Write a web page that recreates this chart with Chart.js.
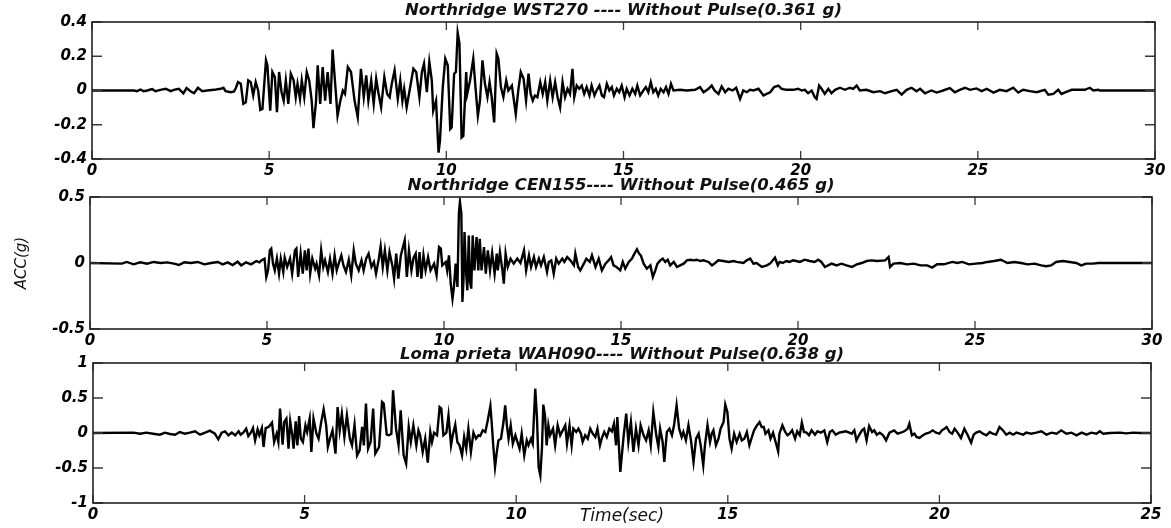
<!DOCTYPE html>
<html>
<head>
<meta charset="utf-8">
<script src="https://cdn.jsdelivr.net/npm/chart.js@4.4.1/dist/chart.umd.min.js"></script>
<style>
  body { margin: 0; background: #fff; }
  #wrap { position: relative; width: 1171px; height: 528px; overflow: hidden; }
  canvas { position: absolute; left: 0; }
</style>
</head>
<body>
<div id="wrap">
  <canvas id="wst270" width="1171" height="180" style="top:0px"></canvas>
  <canvas id="cen155" width="1171" height="180" style="top:174px"></canvas>
  <canvas id="wah090" width="1171" height="186" style="top:342px"></canvas>
</div>
<script>
// [time (sec), acceleration (g)]
const wst270 = [
  [0,0],[1.18,0],[1.27,-0.004],[1.37,0.006],[1.46,-0.004],[1.56,0],[1.70,0.008],[1.79,-0.004],[1.93,0.004],[2.08,0.01],
  [2.22,-0.004],[2.31,0.004],[2.45,0.01],[2.58,-0.016],[2.67,0.014],[2.78,-0.004],[2.88,-0.016],[2.99,0.016],[3.11,-0.004],[3.25,0],
  [3.44,0.004],[3.63,0.01],[3.71,0.016],[3.77,-0.004],[3.92,-0.01],[4.01,-0.006],
  [4.06,0.015],[4.12,0.049],[4.20,0.039],[4.27,-0.078],[4.34,-0.069],[4.41,0.059],[4.48,0.049],[4.55,-0.029],[4.62,0.049],[4.69,0],
  [4.75,-0.114],[4.81,-0.108],[4.91,0.176],[4.95,0.147],[5.03,-0.118],[5.09,0.108],[5.16,0.078],[5.22,-0.127],[5.28,0.108],[5.35,-0.01],
  [5.41,-0.059],[5.47,0.059],[5.54,-0.078],[5.61,0.098],[5.69,0.059],[5.75,-0.039],[5.80,0.039],[5.87,-0.049],[5.92,0.059],[5.99,-0.039],
  [6.06,0.108],[6.13,0.059],[6.20,-0.059],[6.25,-0.22],[6.32,-0.069],[6.37,0.147],[6.44,-0.078],[6.51,0.137],[6.58,-0.059],[6.65,0.108],
  [6.73,-0.078],[6.79,0.239],[6.87,0.02],[6.93,-0.147],[7.01,-0.059],[7.08,0],[7.14,-0.02],[7.22,0.137],[7.31,0.108],[7.41,-0.059],
  [7.50,-0.157],[7.59,0.127],[7.67,-0.039],[7.74,0.088],[7.80,-0.059],[7.88,0.059],[7.95,-0.078],[8.02,0.069],[8.08,-0.01],[8.16,-0.098],
  [8.25,0.078],[8.33,-0.02],[8.40,-0.039],[8.46,0.039],[8.54,0.118],[8.63,-0.049],[8.70,0.06],[8.76,-0.06],[8.81,0.01],[8.88,-0.098],
  [8.98,0.02],[9.07,0.127],[9.15,0.108],[9.24,-0.039],[9.31,0.108],[9.37,0.157],[9.45,-0.01],[9.52,0.167],[9.59,0.059],[9.63,-0.118],
  [9.71,-0.059],[9.78,-0.363],[9.82,-0.294],[9.90,0.02],[9.97,0.186],[10.04,0.147],[10.11,-0.225],[10.15,-0.216],[10.22,0.098],[10.27,0.108],
  [10.32,0.337],[10.37,0.275],[10.43,-0.275],[10.48,-0.265],[10.56,0.108],[10.59,-0.02],[10.67,0.059],[10.76,0.186],[10.83,0],[10.89,-0.147],
  [10.95,-0.059],[11.02,0.176],[11.09,0.039],[11.16,-0.039],[11.22,0.049],[11.28,-0.039],[11.35,-0.186],[11.42,0.216],[11.47,0.186],[11.54,0.02],
  [11.61,-0.039],[11.69,0.059],[11.75,0],[11.85,0.029],[11.96,-0.137],[12.03,0],[12.10,0.108],[12.18,0.069],[12.25,-0.059],[12.32,0.098],
  [12.38,-0.02],[12.44,-0.059],[12.50,-0.029],[12.57,-0.039],[12.65,0.049],[12.72,-0.02],[12.79,0.049],[12.85,-0.059],[12.93,0.059],[13.00,-0.039],
  [13.07,0.049],[13.14,-0.039],[13.21,-0.098],[13.28,0.049],[13.35,-0.039],[13.42,0.01],[13.49,-0.02],[13.56,0.127],[13.61,-0.039],[13.68,0.029],
  [13.75,0.01],[13.82,0.029],[13.89,-0.02],[13.96,0.02],[14.04,-0.029],[14.10,0.029],[14.18,-0.029],[14.24,0],[14.32,0.029],[14.39,-0.029],
  [14.45,-0.039],[14.53,0.039],[14.60,0],[14.67,0.02],[14.73,-0.029],[14.81,0.01],[14.88,-0.01],[14.95,0.029],[15.03,-0.039],[15.09,0.01],
  [15.17,-0.029],[15.25,0.01],[15.33,-0.02],[15.39,0.029],[15.47,-0.029],[15.56,0],[15.63,0.02],[15.70,-0.01],[15.77,0.049],[15.84,-0.01],
  [15.91,0.01],[15.98,-0.029],[16.05,0.01],[16.13,-0.01],[16.20,0.02],[16.27,-0.02],[16.34,0.039],[16.41,0],[16.60,0.004],[16.78,0],
  [17.02,0.004],[17.16,0.02],[17.26,-0.01],[17.40,0.01],[17.49,0.029],[17.57,0],[17.68,-0.02],[17.77,0.024],[17.87,-0.01],[17.96,0.01],
  [18.08,0],[18.18,0.016],[18.29,-0.049],[18.38,0],[18.48,-0.01],[18.57,0.004],[18.67,0],[18.81,0.01],[18.95,-0.029],[19.04,-0.02],
  [19.14,-0.01],[19.25,0.02],[19.37,0.029],[19.46,0.01],[19.60,0.004],[19.79,0.004],[19.93,0.01],[20.03,0],[20.12,0.004],[20.21,-0.016],
  [20.31,0],[20.40,-0.039],[20.45,-0.049],[20.52,0.029],[20.59,0.01],[20.68,-0.02],[20.78,0.01],[20.87,-0.016],[20.97,0.004],[21.11,0.016],
  [21.25,0.004],[21.39,0.016],[21.48,0.01],[21.58,0.029],[21.67,0],[21.86,0.004],[22.05,-0.01],[22.24,-0.004],[22.38,-0.016],[22.57,-0.004],
  [22.71,0.004],[22.85,-0.024],[22.99,0.004],[23.13,0.016],[23.27,-0.004],[23.37,0.01],[23.51,-0.016],[23.69,0],[23.84,-0.012],[24.02,0],
  [24.21,0.014],[24.35,-0.01],[24.49,0.004],[24.64,0.016],[24.78,0.004],[24.96,0.012],[25.11,-0.004],[25.25,0.01],[25.44,-0.012],[25.62,0.004],
  [25.81,-0.004],[26.00,0.016],[26.14,-0.012],[26.28,0.004],[26.47,-0.004],[26.66,-0.01],[26.89,0.004],[26.99,-0.024],[27.13,-0.02],[27.27,0.004],
  [27.36,-0.02],[27.50,-0.008],[27.65,0.004],[27.79,0.004],[28.02,0.004],[28.16,0.016],[28.26,0],[28.40,0.004],[28.45,0],[30,0]
];

const cen155 = [
  [0,0],[0.90,-0.005],[1.04,0.008],[1.23,-0.01],[1.42,0.005],[1.61,-0.005],[1.80,0.008],[1.99,0],[2.18,0.005],[2.37,-0.005],
  [2.51,-0.015],[2.66,0.005],[2.85,0],[3.04,0.008],[3.23,-0.01],[3.42,0],[3.61,0.008],[3.75,-0.01],[3.89,0.005],[4.03,-0.015],
  [4.17,0.01],[4.27,-0.018],[4.41,0.005],[4.55,-0.01],[4.70,0.015],[4.79,0.005],[4.84,0.02],[4.93,0.033],[4.98,-0.106],[5.03,-0.056],
  [5.08,0.096],[5.12,0.109],[5.17,-0.005],[5.22,-0.056],[5.28,0.033],[5.34,-0.081],[5.39,0.033],[5.46,-0.068],[5.50,0.04],[5.57,-0.03],
  [5.65,0.033],[5.71,-0.081],[5.79,0.096],[5.83,0.109],[5.88,-0.106],[5.95,0.071],[6.01,-0.081],[6.07,0.096],[6.12,-0.056],[6.17,0.109],
  [6.22,-0.081],[6.28,0.033],[6.36,-0.043],[6.40,-0.005],[6.47,-0.093],[6.53,0.096],[6.59,-0.03],[6.64,0.02],[6.72,-0.068],[6.78,0.033],
  [6.85,-0.081],[6.91,0.058],[6.97,-0.056],[7.04,0.008],[7.10,0.058],[7.16,-0.018],[7.23,-0.068],[7.31,0.025],[7.38,-0.093],[7.45,0.096],
  [7.51,-0.005],[7.59,-0.056],[7.67,0.02],[7.73,-0.056],[7.80,0.033],[7.87,0.071],[7.95,-0.03],[8.02,0.008],[8.08,-0.081],[8.16,0.033],
  [8.21,0.126],[8.27,-0.03],[8.33,0.096],[8.40,-0.056],[8.46,0.083],[8.54,-0.018],[8.59,-0.119],[8.65,0.071],[8.71,-0.119],[8.78,0.058],
  [8.89,0.172],[8.95,-0.106],[9.01,0.096],[9.08,-0.056],[9.14,0.04],[9.20,0.071],[9.25,-0.106],[9.31,0.083],[9.36,-0.119],[9.42,0.058],
  [9.48,-0.056],[9.55,0.045],[9.62,-0.056],[9.72,-0.005],[9.79,-0.093],[9.86,0.121],[9.91,0.109],[9.95,-0.018],[10.05,0.008],[10.09,-0.056],
  [10.14,0.058],[10.19,-0.157],[10.24,-0.27],[10.28,-0.182],[10.33,-0.005],[10.38,-0.182],[10.42,0.374],[10.45,0.463],[10.49,0.374],[10.52,-0.295],
  [10.55,-0.131],[10.58,0.235],[10.62,-0.056],[10.66,-0.207],[10.70,0.209],[10.73,-0.131],[10.77,-0.194],[10.81,0.209],[10.86,-0.056],[10.92,0.197],
  [10.97,-0.056],[11.01,0.184],[11.06,-0.056],[11.13,0.121],[11.18,-0.081],[11.24,0.096],[11.30,-0.056],[11.36,0.076],[11.43,-0.081],[11.49,0.071],
  [11.52,-0.056],[11.58,0.083],[11.65,-0.056],[11.69,-0.157],[11.74,0.071],[11.80,-0.03],[11.88,0.033],[11.97,-0.005],[12.07,0.033],[12.16,0],
  [12.26,0.096],[12.32,-0.056],[12.40,0.058],[12.46,-0.03],[12.54,0.045],[12.60,-0.03],[12.68,0.033],[12.74,-0.018],[12.82,0.045],[12.91,-0.068],
  [12.96,0.008],[13.03,0.02],[13.10,-0.081],[13.17,0.033],[13.24,-0.005],[13.34,0.033],[13.40,0.008],[13.48,0.045],[13.57,0.02],[13.67,-0.018],
  [13.71,0.071],[13.79,-0.03],[13.85,-0.056],[13.95,-0.005],[14.02,0.033],[14.12,0.008],[14.18,0.058],[14.28,-0.03],[14.37,0.033],[14.46,-0.056],
  [14.56,-0.005],[14.65,0.02],[14.72,0.045],[14.79,-0.018],[14.87,-0.03],[14.98,-0.056],[15.05,0.008],[15.12,-0.043],[15.22,0.008],[15.31,0.033],
  [15.38,0.071],[15.45,0.104],[15.51,0.071],[15.56,0.058],[15.64,-0.005],[15.73,-0.043],[15.83,-0.018],[15.90,-0.106],[15.97,-0.056],[16.03,-0.005],
  [16.11,0.02],[16.18,0.033],[16.25,0.008],[16.32,0.025],[16.39,-0.018],[16.49,0.008],[16.58,-0.03],[16.67,-0.018],[16.77,-0.005],[16.86,0.02],
  [16.96,0.025],[17.05,0.02],[17.14,0.025],[17.24,0.015],[17.33,0.02],[17.47,0.008],[17.57,-0.018],[17.66,0],[17.75,0.02],[17.89,0.015],
  [18.04,0.008],[18.18,0.015],[18.27,0.008],[18.46,0],[18.55,0.02],[18.65,0.033],[18.74,-0.005],[18.83,0],[18.98,-0.03],[19.12,-0.018],
  [19.21,-0.005],[19.35,0.04],[19.43,-0.018],[19.48,0.008],[19.57,0],[19.67,0.015],[19.76,0.008],[19.86,0.02],[19.95,0.015],[20.05,0.008],
  [20.19,0.025],[20.33,0.015],[20.47,0.008],[20.57,0.025],[20.66,0.008],[20.76,-0.03],[20.85,-0.018],[20.95,-0.005],[21.09,-0.018],[21.23,-0.005],
  [21.37,-0.018],[21.52,-0.03],[21.66,-0.01],[21.80,0],[21.94,0.015],[22.08,0.02],[22.23,0.015],[22.46,0.02],[22.56,0.045],[22.60,-0.03],
  [22.70,-0.005],[22.89,0],[23.08,-0.01],[23.27,-0.005],[23.46,-0.018],[23.65,-0.018],[23.79,-0.035],[23.93,-0.01],[24.12,-0.01],[24.36,0.008],
  [24.50,0],[24.64,0.008],[24.83,-0.01],[25.02,-0.005],[25.21,0],[25.35,0.008],[25.54,0.015],[25.73,0.025],[25.92,0],[26.11,0.008],
  [26.30,0],[26.49,-0.01],[26.68,-0.005],[26.87,-0.018],[27.01,-0.025],[27.15,-0.018],[27.29,0.008],[27.48,0.015],[27.67,0.008],[27.86,0],
  [28.00,-0.018],[28.14,-0.005],[28.33,-0.005],[28.48,0],[28.62,0],[30,0]
];

const wah090 = [
  [0,0],[0.95,0.005],[1.11,-0.01],[1.26,0.005],[1.42,-0.01],[1.58,-0.024],[1.70,0.005],[1.82,-0.014],[1.94,-0.024],[2.05,0.014],
  [2.17,-0.01],[2.29,0.005],[2.41,0.024],[2.53,-0.024],[2.65,0.005],[2.76,0.033],[2.88,-0.01],[2.96,-0.09],[3.04,0.005],[3.12,0.024],
  [3.20,-0.033],[3.28,0.005],[3.36,-0.033],[3.44,0.024],[3.49,-0.024],[3.55,0.005],[3.62,0.062],[3.67,-0.043],[3.73,0.005],[3.78,0.071],
  [3.83,-0.105],[3.89,0.052],[3.93,-0.033],[3.99,0.071],[4.03,-0.2],[4.08,0.071],[4.15,0.086],[4.23,0.148],[4.28,-0.129],[4.34,-0.01],
  [4.38,-0.129],[4.42,0.348],[4.48,-0.167],[4.52,0.157],[4.57,0.205],[4.62,-0.224],[4.66,0.167],[4.71,-0.033],[4.74,-0.224],[4.79,0.167],
  [4.83,-0.176],[4.87,0.243],[4.91,-0.081],[4.96,-0.129],[5.02,0.11],[5.06,0.014],[5.12,0.205],[5.16,-0.271],[5.21,0.205],[5.28,-0.01],
  [5.33,-0.081],[5.39,0.148],[5.45,0.338],[5.51,0.11],[5.55,-0.2],[5.61,-0.057],[5.66,0.038],[5.73,-0.295],[5.78,0.371],[5.83,0.038],
  [5.88,0.276],[5.94,-0.057],[6.00,0.252],[6.07,-0.081],[6.12,-0.176],[6.18,0.119],[6.24,-0.319],[6.30,-0.248],[6.36,0.086],[6.40,-0.176],
  [6.45,0.419],[6.50,-0.224],[6.56,-0.129],[6.62,0.348],[6.67,-0.295],[6.76,-0.2],[6.83,0.443],[6.87,0.419],[6.94,-0.024],[6.99,-0.033],
  [7.05,-0.01],[7.09,0.61],[7.16,0.062],[7.22,-0.176],[7.27,0.324],[7.34,-0.319],[7.40,-0.438],[7.46,0.086],[7.51,-0.129],[7.57,0.11],
  [7.64,-0.176],[7.69,0.038],[7.73,-0.033],[7.79,-0.271],[7.85,-0.081],[7.91,-0.424],[7.97,0.014],[8.01,-0.129],[8.06,0.005],[8.13,-0.033],
  [8.19,0.371],[8.23,0.348],[8.28,-0.033],[8.35,0.005],[8.40,0.252],[8.46,-0.176],[8.50,-0.033],[8.56,0.119],[8.61,-0.129],[8.66,-0.176],
  [8.72,-0.319],[8.77,-0.057],[8.82,-0.224],[8.87,0.062],[8.93,-0.271],[8.99,0.005],[9.05,-0.081],[9.11,-0.033],[9.15,-0.043],[9.21,0.038],
  [9.27,0.014],[9.32,0.157],[9.39,0.386],[9.42,0.157],[9.46,-0.2],[9.50,-0.486],[9.54,-0.281],[9.58,-0.105],[9.64,-0.081],[9.70,0.157],
  [9.74,0.395],[9.78,0.11],[9.82,-0.081],[9.87,0.11],[9.92,-0.152],[9.98,-0.033],[10.03,-0.129],[10.08,-0.224],[10.13,-0.01],[10.19,-0.319],
  [10.25,-0.105],[10.29,-0.176],[10.35,-0.081],[10.39,-0.152],[10.45,0.633],[10.49,0.229],[10.53,-0.486],[10.57,-0.605],[10.61,-0.2],[10.64,0.405],
  [10.68,0.252],[10.72,-0.176],[10.76,0.11],[10.80,-0.033],[10.87,0.062],[10.92,-0.176],[10.98,0.11],[11.04,-0.033],[11.10,0.038],[11.16,0.11],
  [11.20,-0.152],[11.26,0.11],[11.31,-0.176],[11.35,0.062],[11.42,0.014],[11.47,0.062],[11.53,-0.01],[11.57,-0.129],[11.63,-0.033],[11.69,-0.081],
  [11.75,0.062],[11.81,-0.01],[11.87,-0.057],[11.92,0.062],[11.98,-0.176],[12.02,-0.081],[12.08,0.014],[12.14,-0.057],[12.20,0.062],[12.26,0.024],
  [12.31,0.133],[12.36,-0.176],[12.39,0.229],[12.46,-0.557],[12.54,-0.033],[12.60,0.276],[12.65,-0.129],[12.71,0.157],[12.77,-0.271],[12.83,0.062],
  [12.89,-0.176],[12.94,0.11],[13.01,-0.033],[13.07,-0.105],[13.13,0.038],[13.18,-0.176],[13.24,0.3],[13.31,-0.033],[13.36,-0.2],[13.40,0.062],
  [13.46,-0.129],[13.50,-0.414],[13.56,0.014],[13.62,0.062],[13.68,-0.033],[13.73,0.11],[13.79,0.395],[13.85,0.062],[13.91,-0.057],[13.95,0.014],
  [14.01,-0.105],[14.07,0.11],[14.13,-0.105],[14.19,-0.414],[14.25,-0.081],[14.31,-0.01],[14.36,-0.176],[14.42,-0.462],[14.46,-0.176],[14.52,0.11],
  [14.58,-0.129],[14.62,-0.01],[14.66,0.038],[14.72,-0.176],[14.78,-0.081],[14.83,0.062],[14.90,0.157],[14.94,0.405],[14.99,0.3],[15.04,-0.081],
  [15.09,-0.224],[15.15,-0.01],[15.21,-0.129],[15.28,-0.01],[15.33,-0.105],[15.39,-0.081],[15.45,0.014],[15.51,-0.176],[15.57,-0.057],[15.62,0.038],
  [15.69,0.11],[15.75,0.157],[15.80,0.086],[15.85,0.086],[15.89,-0.01],[15.96,0.038],[16.01,-0.081],[16.07,0.005],[16.13,-0.129],[16.19,-0.262],
  [16.22,-0.01],[16.29,0.11],[16.35,0.024],[16.41,-0.033],[16.46,-0.01],[16.52,0.038],[16.59,-0.081],[16.64,0.024],[16.70,-0.033],[16.75,0.148],
  [16.80,0.014],[16.86,0.005],[16.92,-0.033],[16.98,0.038],[17.06,-0.024],[17.12,0.024],[17.20,0.005],[17.28,0.038],[17.35,-0.129],[17.41,0.014],
  [17.47,0.038],[17.55,-0.024],[17.63,0.005],[17.71,0.014],[17.79,0.024],[17.87,0.005],[17.93,-0.01],[17.99,0.038],[18.04,-0.105],[18.10,-0.033],
  [18.17,0.038],[18.22,0.062],[18.28,-0.105],[18.34,0.1],[18.41,0.014],[18.46,0.038],[18.52,-0.024],[18.59,0.005],[18.67,-0.033],[18.74,-0.105],
  [18.82,0.005],[18.88,0.024],[18.93,0.038],[19.01,-0.01],[19.09,0.005],[19.17,0.024],[19.25,0.062],[19.29,0.133],[19.35,-0.033],[19.41,-0.01],
  [19.46,-0.057],[19.53,-0.071],[19.61,-0.033],[19.68,-0.01],[19.76,0.005],[19.84,0.038],[19.92,0.005],[20.00,-0.01],[20.06,0.038],[20.12,0.062],
  [20.17,0.086],[20.24,0.014],[20.30,-0.01],[20.36,0.062],[20.43,0.005],[20.51,-0.071],[20.59,0.062],[20.67,-0.033],[20.75,-0.138],[20.81,-0.024],
  [20.87,0.005],[20.95,0.024],[21.03,-0.01],[21.11,-0.033],[21.19,0.014],[21.26,-0.01],[21.34,-0.024],[21.42,0.086],[21.50,0.038],[21.58,-0.024],
  [21.66,0.005],[21.74,-0.024],[21.82,0.005],[21.90,-0.01],[21.98,-0.024],[22.05,0.005],[22.17,-0.01],[22.29,0.005],[22.41,0.024],[22.53,-0.024],
  [22.65,0.005],[22.77,-0.01],[22.88,0.038],[23.00,-0.01],[23.12,0.005],[23.24,-0.033],[23.36,0.005],[23.48,-0.024],[23.59,0.005],[23.71,-0.01],
  [23.79,0.024],[23.87,-0.01],[24.03,0],[24.27,0.005],[24.42,-0.005],[24.58,0.005],[24.74,0],[25,0]
];

const titles = [
  "Northridge WST270 ---- Without Pulse(0.361 g)",
  "Northridge CEN155---- Without Pulse(0.465 g)",
  "Loma prieta WAH090---- Without Pulse(0.638 g)"
];
const yTicks1 = [-0.4, -0.2, 0, 0.2, 0.4];
const yTicks2 = [-0.5, 0, 0.5];
const yTicks3 = [-1, -0.5, 0, 0.5, 1];
const xTicks30 = [0, 5, 10, 15, 20, 25, 30];
const xTicks25 = [0, 5, 10, 15, 20, 25];

const tickFont = { family: "DejaVu Sans", size: 15, weight: "bold", style: "italic" };

// matlab style box with inward ticks on all four sides
const boxTicks = {
  id: "boxTicks",
  afterDatasetsDraw(chart) {
    const { ctx, chartArea: a, scales } = chart;
    const x = scales.x, y = scales.y;
    ctx.save();
    ctx.strokeStyle = "#3a3a3a";
    ctx.lineWidth = 1.3;
    ctx.beginPath();
    x.ticks.forEach(t => {
      const px = x.getPixelForValue(t.value);
      ctx.moveTo(px, a.top); ctx.lineTo(px, a.top + 8);
      ctx.moveTo(px, a.bottom); ctx.lineTo(px, a.bottom - 8);
    });
    y.ticks.forEach(t => {
      const py = y.getPixelForValue(t.value);
      ctx.moveTo(a.left, py); ctx.lineTo(a.left + 10, py);
      ctx.moveTo(a.right, py); ctx.lineTo(a.right - 10, py);
    });
    ctx.stroke();
    ctx.strokeStyle = "#222";
    ctx.lineWidth = 1.6;
    ctx.strokeRect(a.left, a.top, a.right - a.left, a.bottom - a.top);
    ctx.restore();
  }
};

function makePanel(id, title, record, yTicks, xTicks, lay) {
  const ctx = document.getElementById(id).getContext("2d");
  return new Chart(ctx, {
    type: "line",
    data: {
      datasets: [{
        data: record.map(([t, a]) => ({ x: t, y: a })),
        borderColor: "#000",
        borderWidth: 2.4,
        borderJoinStyle: "miter",
        pointRadius: 0,
        tension: 0,
        fill: false
      }]
    },
    options: {
      responsive: false,
      animation: false,
      layout: { padding: { left: 0, right: lay.right, top: 0, bottom: 0 } },
      plugins: {
        legend: { display: false },
        tooltip: { enabled: false },
        title: {
          display: true,
          fullSize: false,
          text: title,
          color: "#111",
          font: { family: "DejaVu Sans", size: 16.5, weight: "bold", style: "italic", lineHeight: 1 },
          padding: { top: lay.titleTop, bottom: lay.titleBottom }
        }
      },
      scales: {
        x: {
          type: "linear",
          min: xTicks[0],
          max: xTicks[xTicks.length - 1],
          afterBuildTicks: s => { s.ticks = xTicks.map(v => ({ value: v })); },
          afterFit: s => { s.height = lay.xHeight; },
          grid: { display: false, drawTicks: false },
          border: { display: false },
          ticks: { color: "#000", font: tickFont, padding: 3, maxRotation: 0, autoSkip: false, callback: v => String(v) },
          title: lay.xTitle ? {
            display: true,
            text: lay.xTitle,
            color: "#111",
            font: { family: "DejaVu Sans", size: 17, style: "italic", lineHeight: 1 },
            padding: { top: 0, bottom: 2.5 }
          } : { display: false }
        },
        y: {
          min: yTicks[0],
          max: yTicks[yTicks.length - 1],
          afterBuildTicks: s => { s.ticks = yTicks.map(v => ({ value: v })); },
          afterFit: s => { s.width = lay.yWidth; },
          grid: { display: false, drawTicks: false },
          border: { display: false },
          ticks: { color: "#000", font: tickFont, padding: 5, autoSkip: false, callback: v => String(v) },
          title: lay.yTitle ? {
            display: true,
            text: lay.yTitle,
            color: "#111",
            font: { family: "DejaVu Sans", size: 15, style: "italic", lineHeight: 1.2 },
            padding: { top: 13, bottom: 0 }
          } : { display: false }
        }
      }
    },
    plugins: [boxTicks]
  });
}

makePanel("wst270", titles[0], wst270, yTicks1, xTicks30,
  { right: 16, titleTop: 2, titleBottom: 3.5, xHeight: 21, yWidth: 92 });
makePanel("cen155", titles[1], cen155, yTicks2, xTicks30,
  { right: 19, titleTop: 3.5, titleBottom: 3, xHeight: 25, yWidth: 90, yTitle: "ACC(g)" });
makePanel("wah090", titles[2], wah090, yTicks3, xTicks25,
  { right: 20, titleTop: 4, titleBottom: 0.5, xHeight: 25, yWidth: 93, xTitle: "Time(sec)" });
</script>
</body>
</html>
